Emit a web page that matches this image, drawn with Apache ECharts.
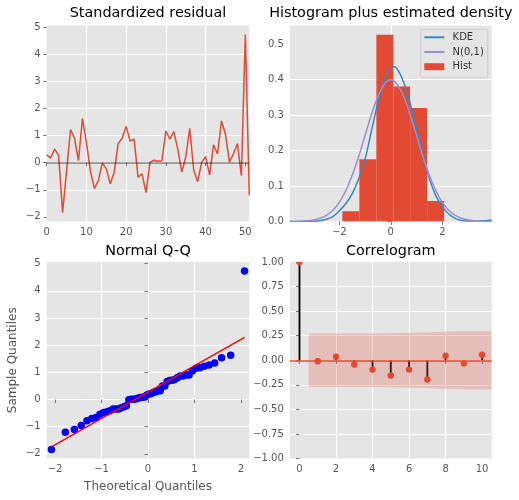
<!DOCTYPE html>
<html>
<head>
<meta charset="utf-8">
<script src="https://cdn.jsdelivr.net/npm/echarts@6/dist/echarts.min.js"></script>
<style>
html,body{margin:0;padding:0;background:#fff;}
#chart{width:519px;height:500px;}
</style>
</head>
<body>
<div id="chart"></div>
<script>
// ---------- data ----------
const residuals = [0.29, 0.17, 0.5, 0.27, -1.84, -0.32, 1.22, 0.9, 0.08, 1.63, 0.74, -0.3, -0.96, -0.66, -0.01, -0.23, -0.78, -0.35, 0.71, 0.9, 1.34, 0.8, 0.87, -0.54, -0.41, -1.1, 0.01, 0.09, 0.05, 0.07, 1.17, 0.87, 1.15, 0.5, -0.35, 0.2, 1.27, -0.27, -0.7, 0.01, 0.22, -0.45, 0.66, 0.32, 1.54, 1.05, 0.02, 0.32, 0.7, -0.48, 4.73, -1.2];

const histEdges = [-1.88, -1.22, -0.56, 0.10, 0.75, 1.41, 2.07];
const histDensity = [0.029, 0.175, 0.526, 0.38, 0.32, 0.058];

const curveX = [-3.92, -3.5, -3.0, -2.75, -2.5, -2.25, -2.0, -1.75, -1.5, -1.25, -1.0, -0.75, -0.5, -0.25, 0.0, 0.1, 0.25, 0.5, 0.75, 1.0, 1.25, 1.5, 1.75, 2.0, 2.25, 2.5, 2.75, 3.0, 3.5, 3.92];
const kdeValues = [0.0, 0.0001, 0.0007, 0.0023, 0.0065, 0.014, 0.03, 0.05, 0.078, 0.12, 0.175, 0.255, 0.335, 0.40, 0.432, 0.436, 0.43, 0.392, 0.333, 0.262, 0.19, 0.12, 0.072, 0.042, 0.021, 0.009, 0.003, 0.0012, 0.0012, 0.004];
const normalValues = [0.00019, 0.00087, 0.00443, 0.00909, 0.01753, 0.03174, 0.05399, 0.08628, 0.12952, 0.18265, 0.24197, 0.30114, 0.35207, 0.38667, 0.39894, 0.39695, 0.38667, 0.35207, 0.30114, 0.24197, 0.18265, 0.12952, 0.08628, 0.05399, 0.03174, 0.01753, 0.00909, 0.00443, 0.00087, 0.00019];

const qqTheoretical = [-2.078, -1.778, -1.584, -1.436, -1.314, -1.210, -1.116, -1.032, -0.955, -0.883, -0.815, -0.751, -0.689, -0.631, -0.574, -0.519, -0.466, -0.413, -0.362, -0.312, -0.263, -0.215, -0.166, -0.119, -0.071, -0.024, 0.024, 0.071, 0.119, 0.166, 0.215, 0.263, 0.312, 0.362, 0.413, 0.466, 0.519, 0.574, 0.631, 0.689, 0.751, 0.815, 0.883, 0.955, 1.032, 1.116, 1.210, 1.314, 1.436, 1.584, 1.778, 2.078];
const qqSample = [-1.84, -1.2, -1.1, -0.96, -0.78, -0.7, -0.66, -0.54, -0.48, -0.45, -0.41, -0.35, -0.35, -0.35, -0.3, -0.27, -0.23, -0.01, 0.01, 0.01, 0.02, 0.05, 0.07, 0.08, 0.09, 0.17, 0.2, 0.22, 0.27, 0.29, 0.32, 0.32, 0.5, 0.5, 0.66, 0.7, 0.71, 0.74, 0.8, 0.87, 0.87, 0.9, 0.9, 1.05, 1.15, 1.17, 1.22, 1.27, 1.34, 1.54, 1.63, 4.73];
const qqLineX = [-2.078, 2.078];
const qqLineY = [-1.74, 2.29];

const acfLags = [0, 1, 2, 3, 4, 5, 6, 7, 8, 9, 10];
const acfValues = [1.0, -0.01, 0.037, -0.044, -0.095, -0.155, -0.095, -0.196, 0.047, -0.034, 0.057];
const bandX = [0.5, 2, 3, 4, 5, 6, 7, 8, 9, 10.5];
const bandUpper = [0.272, 0.272, 0.2725, 0.273, 0.275, 0.281, 0.283, 0.293, 0.294, 0.294];
const bandLower = [-0.272, -0.272, -0.2725, -0.273, -0.275, -0.281, -0.283, -0.293, -0.294, -0.294];

const residXTicks = [0, 10, 20, 30, 40, 50];
const residYTicks = [-2, -1, 0, 1, 2, 3, 4, 5];
const histXTicks = [-2, 0, 2];
const histYTicks = [0, 0.1, 0.2, 0.3, 0.4, 0.5];
const qqXTicks = [-2, -1, 0, 1, 2];
const qqYTicks = [-2, -1, 0, 1, 2, 3, 4, 5];
const acfXTicks = [0, 2, 4, 6, 8, 10];
const acfYTicks = [-1, -0.75, -0.5, -0.25, 0, 0.25, 0.5, 0.75, 1];

const titles = ['Standardized residual', 'Histogram plus estimated density', 'Normal Q-Q', 'Correlogram'];

// ---------- styling helpers ----------
const FONT = 'DejaVu Sans';
const RED = '#E24A33';
const minus = s => String(s).replace(/-/g, '\u2212');

function makeAxis(gridIndex, min, max, ticks, fmt, extra) {
  return Object.assign({
    type: 'value', gridIndex, min, max,
    axisLine: { show: false },
    axisTick: { show: true, length: 3.5, customValues: ticks, lineStyle: { color: '#555555', width: 0.8 } },
    axisLabel: { customValues: ticks, color: '#555555', fontSize: 10, fontFamily: FONT, margin: 6,
                 formatter: v => minus(fmt ? fmt(v) : v) },
    splitLine: { show: true, showMinLine: false, showMaxLine: false, lineStyle: { color: '#ffffff', width: 1 } },
    nameTextStyle: { color: '#555555', fontSize: 12, fontFamily: FONT }
  }, extra || {});
}

const grids = [
  { left: 46.7, top: 25.5, width: 202.6, height: 196 },
  { left: 289.8, top: 25.5, width: 202, height: 196 },
  { left: 46.7, top: 262, width: 202.6, height: 196.5 },
  { left: 289.8, top: 262, width: 202, height: 196.5 }
].map(g => Object.assign(g, { show: true, backgroundColor: '#E5E5E5', borderWidth: 0, containLabel: false, outerBoundsMode: 'none' }));

const titleCfg = titles.map((t, i) => ({
  text: t,
  left: grids[i].left + grids[i].width / 2,
  top: i < 2 ? 13.5 : 251.5,
  textAlign: 'center',
  textVerticalAlign: 'middle',
  padding: 0,
  textStyle: { fontFamily: FONT, fontSize: 14.4, fontWeight: 'normal', color: '#000000' }
}));

const option = {
  animation: false,
  backgroundColor: '#ffffff',
  textStyle: { fontFamily: FONT },
  title: titleCfg,
  grid: grids,
  legend: {
    orient: 'vertical',
    left: 420.7, top: 29.3,
    padding: [2, 4, 5, 2.6],
    itemWidth: 20, itemHeight: 7, itemGap: 2.7,
    backgroundColor: 'rgba(229,229,229,0.8)',
    borderColor: '#cccccc', borderWidth: 1, borderRadius: 2,
    textStyle: { fontSize: 10, fontFamily: FONT, color: '#333333', lineHeight: 12, padding: [0, 0, 0, 3.3] },
    data: [
      { name: 'KDE', itemStyle: { opacity: 0 } },
      { name: 'N(0,1)', itemStyle: { opacity: 0 } },
      { name: 'Hist', icon: 'rect' }
    ],
    selectedMode: false
  },
  xAxis: [
    makeAxis(0, 0, residuals.length - 1, residXTicks),
    makeAxis(1, -3.92, 3.92, histXTicks),
    makeAxis(2, -2.18, 2.18, qqXTicks, null, { name: 'Theoretical Quantiles', nameLocation: 'middle', nameGap: 22.5 }),
    makeAxis(3, -0.53, 10.53, acfXTicks)
  ],
  yAxis: [
    makeAxis(0, -2.17, 5.06, residYTicks),
    makeAxis(1, 0, 0.552, histYTicks, v => v.toFixed(1)),
    makeAxis(2, -2.17, 5.06, qqYTicks, null, { name: 'Sample Quantiles', nameLocation: 'middle', nameGap: 28, nameRotate: 90 }),
    makeAxis(3, -1, 1, acfYTicks, v => v.toFixed(2))
  ],
  series: [
    // Panel 1: standardized residual
    {
      type: 'line', xAxisIndex: 0, yAxisIndex: 0, name: 'resid',
      data: residuals.map((v, i) => [i, v]),
      showSymbol: false, symbol: 'none',
      lineStyle: { color: RED, width: 1.5 },
      markLine: {
        silent: true, symbol: 'none', label: { show: false },
        lineStyle: { color: 'rgba(0,0,0,0.45)', width: 1.5, type: 'solid' },
        data: [{ yAxis: 0 }]
      }
    },
    // Panel 2: histogram
    {
      type: 'custom', xAxisIndex: 1, yAxisIndex: 1, name: 'Hist', clip: true,
      itemStyle: { color: RED },
      data: histDensity.map((d, i) => [histEdges[i], histEdges[i + 1], d]),
      encode: { x: [0, 1], y: 2 },
      renderItem: (params, api) => {
        const p0 = api.coord([api.value(0), api.value(2)]);
        const p1 = api.coord([api.value(1), 0]);
        return { type: 'rect', shape: { x: p0[0], y: p0[1], width: p1[0] - p0[0], height: p1[1] - p0[1] }, style: { fill: RED } };
      }
    },
    {
      type: 'line', xAxisIndex: 1, yAxisIndex: 1, name: 'KDE',
      data: curveX.map((x, i) => [x, kdeValues[i]]),
      showSymbol: false, symbol: 'none', smooth: 0.35,
      itemStyle: { color: '#348ABD' },
      lineStyle: { color: '#348ABD', width: 1.5 }
    },
    {
      type: 'line', xAxisIndex: 1, yAxisIndex: 1, name: 'N(0,1)',
      data: curveX.map((x, i) => [x, normalValues[i]]),
      showSymbol: false, symbol: 'none', smooth: 0.35,
      itemStyle: { color: '#988ED5' },
      lineStyle: { color: '#988ED5', width: 1.5 }
    },
    // Panel 3: Q-Q
    {
      type: 'scatter', xAxisIndex: 2, yAxisIndex: 2, name: 'qq',
      data: qqTheoretical.map((x, i) => [x, qqSample[i]]),
      symbol: 'circle', symbolSize: 7.5,
      itemStyle: { color: '#0000FF', opacity: 1 }
    },
    {
      type: 'line', xAxisIndex: 2, yAxisIndex: 2, name: 'qqline',
      data: qqLineX.map((x, i) => [x, qqLineY[i]]),
      showSymbol: false, symbol: 'none',
      lineStyle: { color: '#FF0000', width: 1.5 }
    },
    // Panel 4: correlogram
    {
      type: 'custom', xAxisIndex: 3, yAxisIndex: 3, name: 'stems', clip: true, z: 2,
      data: acfLags.map((l, i) => [l, acfValues[i]]),
      renderItem: (params, api) => {
        const a = api.coord([api.value(0), 0]);
        const b = api.coord([api.value(0), api.value(1)]);
        return { type: 'line', shape: { x1: a[0], y1: a[1], x2: b[0], y2: b[1] }, style: { stroke: '#000000', lineWidth: 1.8 } };
      }
    },
    {
      type: 'line', xAxisIndex: 3, yAxisIndex: 3, name: 'zero', z: 3,
      data: [[acfLags[0], 0], [acfLags[acfLags.length - 1], 0]],
      showSymbol: false, symbol: 'none', lineStyle: { opacity: 0 },
      markLine: {
        silent: true, symbol: 'none', label: { show: false },
        lineStyle: { color: RED, width: 1.5, type: 'solid' },
        data: [{ yAxis: 0 }]
      }
    },
    {
      type: 'custom', xAxisIndex: 3, yAxisIndex: 3, name: 'acf', clip: true, z: 6,
      data: acfLags.map((l, i) => [l, acfValues[i]]),
      renderItem: (params, api) => {
        const c = api.coord([api.value(0), api.value(1)]);
        const cs = params.coordSys;
        return {
          type: 'group',
          clipPath: { type: 'rect', shape: { x: cs.x, y: cs.y, width: cs.width, height: cs.height } },
          children: [{ type: 'circle', shape: { cx: c[0], cy: c[1], r: 3.2 }, style: { fill: RED } }]
        };
      }
    },
    {
      type: 'custom', xAxisIndex: 3, yAxisIndex: 3, name: 'band', clip: true, z: 7,
      data: bandX.map((x, i) => [x, bandLower[i], bandUpper[i]]),
      encode: { x: 0, y: [1, 2] },
      renderItem: (params, api) => {
        if (params.dataIndex !== 0) return null;
        const pts = [];
        for (let i = 0; i < bandX.length; i++) pts.push(api.coord([bandX[i], bandUpper[i]]));
        for (let i = bandX.length - 1; i >= 0; i--) pts.push(api.coord([bandX[i], bandLower[i]]));
        return { type: 'polygon', shape: { points: pts }, style: { fill: 'rgba(226,74,51,0.25)' } };
      }
    }
  ]
};

const chart = echarts.init(document.getElementById('chart'), null, { renderer: 'canvas' });
chart.setOption(option);
</script>
</body>
</html>
